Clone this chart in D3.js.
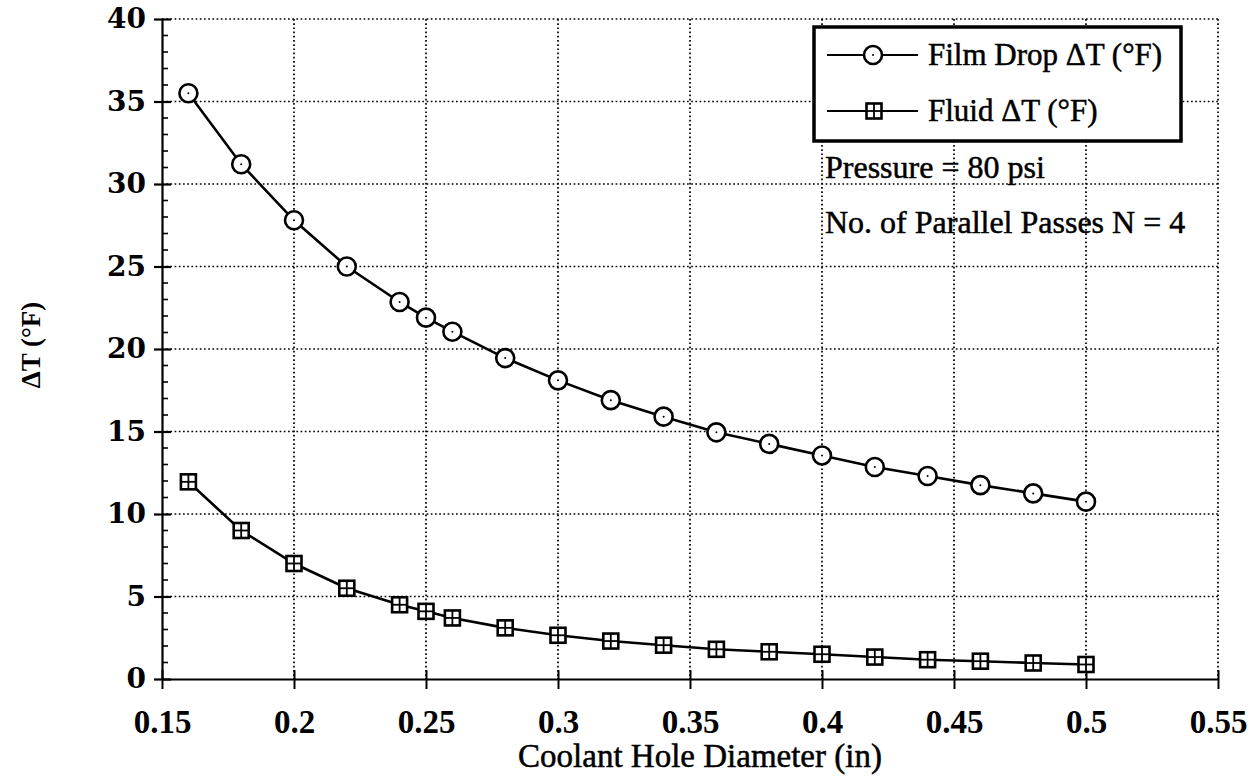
<!DOCTYPE html>
<html>
<head>
<meta charset="utf-8">
<script src="https://cdn.jsdelivr.net/npm/d3@7"></script>
<style>
  body { margin: 0; background: #fff; }
  svg { display: block; }
  .serif { font-family: 'Liberation Serif', 'Times New Roman', serif; }
</style>
</head>
<body>
<div id="chart"></div>
<script>
// data
const diameters = [0.16, 0.18, 0.2, 0.22, 0.24, 0.25, 0.26, 0.28, 0.3, 0.32, 0.34, 0.36, 0.38, 0.4, 0.42, 0.44, 0.46, 0.48, 0.5];
const filmDrop = [35.5, 31.2, 27.8, 25.0, 22.85, 21.9, 21.05, 19.45, 18.1, 16.9, 15.9, 14.95, 14.25, 13.55, 12.85, 12.3, 11.75, 11.25, 10.75];
const fluidDT = [11.95, 9.0, 7.0, 5.5, 4.5, 4.1, 3.7, 3.1, 2.65, 2.3, 2.05, 1.8, 1.65, 1.5, 1.33, 1.17, 1.08, 0.97, 0.88];
const xTicks = [0.15, 0.2, 0.25, 0.3, 0.35, 0.4, 0.45, 0.5, 0.55];
const yTicks = [0, 5, 10, 15, 20, 25, 30, 35, 40];
const seriesNames = ["Film Drop \u0394T (\u00B0F)", "Fluid \u0394T (\u00B0F)"];
const notes = ["Pressure = 80 psi", "No. of Parallel Passes N = 4"];

const width = 1252, height = 779;
const margin = {top: 19, right: 34, bottom: 100, left: 162};
const plotW = width - margin.left - margin.right;
const plotH = height - margin.top - margin.bottom;

const svg = d3.select("#chart").append("svg")
    .attr("width", width)
    .attr("height", height);

const g = svg.append("g")
    .attr("transform", `translate(${margin.left},${margin.top})`);

const x = d3.scaleLinear().domain([0.15, 0.55]).range([0, plotW]);
const y = d3.scaleLinear().domain([0, 40]).range([plotH, 0]);

// dotted grid
g.append("g")
    .selectAll("line")
    .data(xTicks.slice(1))
    .enter().append("line")
    .attr("x1", d => x(d)).attr("x2", d => x(d))
    .attr("y1", 0).attr("y2", plotH)
    .attr("stroke", "#000")
    .attr("stroke-width", 1.7)
    .attr("stroke-dasharray", "1.7,2.5");

g.append("g")
    .selectAll("line")
    .data(yTicks.slice(1))
    .enter().append("line")
    .attr("x1", 0).attr("x2", plotW)
    .attr("y1", d => y(d)).attr("y2", d => y(d))
    .attr("stroke", "#000")
    .attr("stroke-width", 1.7)
    .attr("stroke-dasharray", "1.7,2.5");

// y axis
let yAxis = g.append("g")
    .call(d3.axisLeft(y).tickValues(yTicks).tickSizeInner(8).tickSizeOuter(0).tickPadding(8));
yAxis.select(".domain").attr("stroke-width", 2.2);
yAxis.selectAll(".tick line").attr("x2", 9).attr("x1", -8).attr("stroke-width", 2.2);
yAxis.selectAll(".tick text")
    .style("font-family", "'DejaVu Serif', serif")
    .style("font-weight", "bold")
    .style("font-size", "28px")
    .attr("fill", "#000");

// minor y ticks
g.append("g")
    .selectAll("line")
    .data(d3.range(0, 41).filter(v => v % 5 !== 0))
    .enter().append("line")
    .attr("x1", 0).attr("x2", 6)
    .attr("y1", d => y(d)).attr("y2", d => y(d))
    .attr("stroke", "#000")
    .attr("stroke-width", 1.6);

// x axis
let xAxis = g.append("g")
    .attr("transform", `translate(0,${plotH})`)
    .call(d3.axisBottom(x).tickValues(xTicks).tickFormat(d => String(+d.toFixed(2))).tickSizeInner(10).tickSizeOuter(0).tickPadding(21));
xAxis.select(".domain").attr("stroke-width", 2.2);
xAxis.selectAll(".tick line").attr("y1", -9).attr("y2", 10).attr("stroke-width", 2);
xAxis.selectAll(".tick text")
    .attr("class", "serif")
    .style("font-weight", "bold")
    .style("font-size", "33px")
    .attr("fill", "#000");

// axis titles
svg.append("text")
    .attr("class", "serif")
    .attr("x", 700)
    .attr("y", 767)
    .attr("text-anchor", "middle")
    .style("font-size", "33px")
    .attr("stroke", "#000")
    .attr("stroke-width", 0.5)
    .text("Coolant Hole Diameter (in)");

svg.append("text")
    .attr("class", "serif")
    .attr("transform", "translate(40,345) rotate(-90)")
    .attr("text-anchor", "middle")
    .style("font-weight", "bold")
    .style("font-size", "27px")
    .text("\u0394T (\u00B0F)");

// lines
const line = d3.line()
    .x(d => x(d[0]))
    .y(d => y(d[1]));

const filmPts = diameters.map((d, i) => [d, filmDrop[i]]);
const fluidPts = diameters.map((d, i) => [d, fluidDT[i]]);

[filmPts, fluidPts].forEach(pts => {
    g.append("path")
        .datum(pts)
        .attr("d", line)
        .attr("fill", "none")
        .attr("stroke", "#000")
        .attr("stroke-width", 2.6);
});

function drawCircle(sel, cx, cy) {
    sel.append("circle")
        .attr("cx", cx).attr("cy", cy).attr("r", 9)
        .attr("fill", "#fff")
        .attr("stroke", "#000")
        .attr("stroke-width", 2.6);
    sel.append("circle")
        .attr("cx", cx).attr("cy", cy).attr("r", 1)
        .attr("fill", "#000");
}

function drawSquare(sel, cx, cy) {
    const s = 15;
    sel.append("rect")
        .attr("x", cx - s / 2).attr("y", cy - s / 2)
        .attr("width", s).attr("height", s)
        .attr("fill", "#fff")
        .attr("stroke", "#000")
        .attr("stroke-width", 2.6);
    sel.append("line")
        .attr("x1", cx - s / 2).attr("x2", cx + s / 2)
        .attr("y1", cy).attr("y2", cy)
        .attr("stroke", "#000").attr("stroke-width", 1.8);
    sel.append("line")
        .attr("x1", cx).attr("x2", cx)
        .attr("y1", cy - s / 2).attr("y2", cy + s / 2)
        .attr("stroke", "#000").attr("stroke-width", 1.8);
}

const markers = g.append("g");
filmPts.forEach(p => drawCircle(markers, x(p[0]), y(p[1])));
fluidPts.forEach(p => drawSquare(markers, x(p[0]), y(p[1])));

// legend
const legend = svg.append("g");
legend.append("rect")
    .attr("x", 814).attr("y", 27)
    .attr("width", 367).attr("height", 114)
    .attr("fill", "#fff")
    .attr("stroke", "#000")
    .attr("stroke-width", 3.5);

const rowY = [55, 111];
rowY.forEach((ry, i) => {
    legend.append("line")
        .attr("x1", 827).attr("x2", 918)
        .attr("y1", ry).attr("y2", ry)
        .attr("stroke", "#000")
        .attr("stroke-width", 2.2);
    if (i === 0) drawCircle(legend, 873, ry);
    else drawSquare(legend, 874, ry);
    legend.append("text")
        .attr("class", "serif")
        .attr("x", 928)
        .attr("y", ry + 10)
        .style("font-size", "31px")
        .attr("stroke", "#000")
        .attr("stroke-width", 0.5)
        .text(seriesNames[i]);
});

// annotations
const noteY = [178, 233];
notes.forEach((t, i) => {
    svg.append("text")
        .attr("class", "serif")
        .attr("x", 825)
        .attr("y", noteY[i])
        .style("font-size", "32px")
        .attr("stroke", "#000")
        .attr("stroke-width", 0.5)
        .text(t);
});
</script>
</body>
</html>
